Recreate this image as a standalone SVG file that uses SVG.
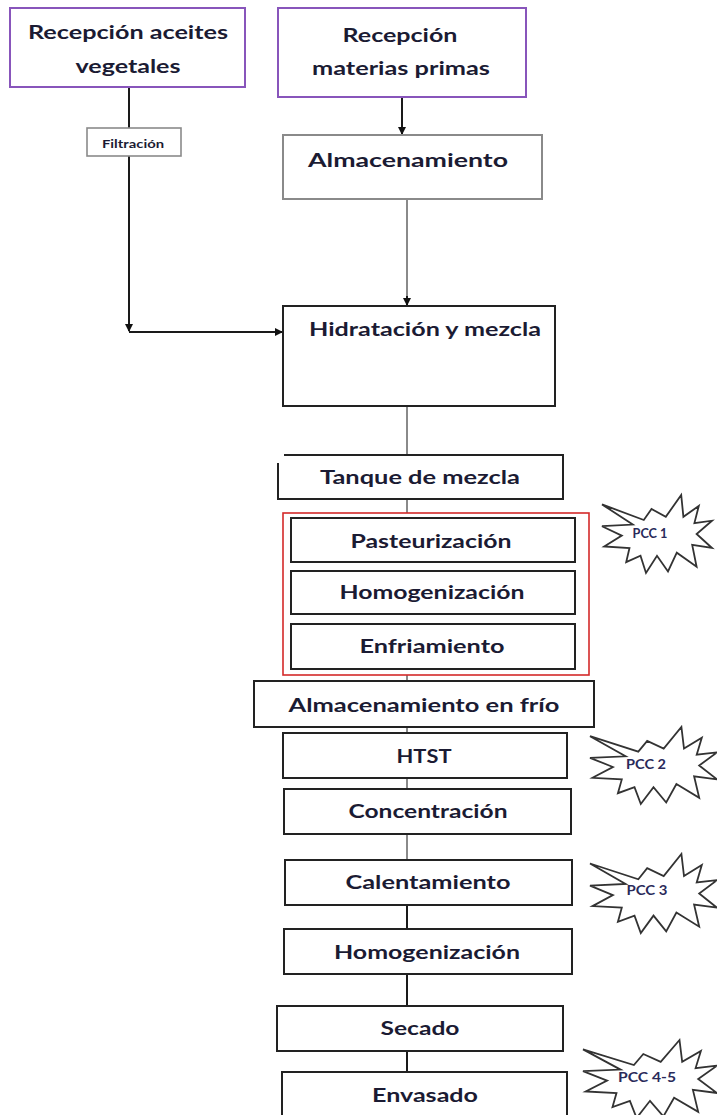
<svg xmlns="http://www.w3.org/2000/svg" width="717" height="1115" viewBox="0 0 717 1115">
<style>
.t{font-family:Lato,"Liberation Sans",sans-serif;font-weight:bold;font-size:18px;fill:#1b1b33;text-anchor:middle}
.s{font-size:11px}
.p{font-size:13.5px;fill:#2a2a5a}
.pur{fill:#fff;stroke:#8855bb;stroke-width:2}
.gry{fill:#fff;stroke:#8a8a8a;stroke-width:2}
.blk{fill:#fff;stroke:#222;stroke-width:2}
.red{fill:none;stroke:#d42a2a;stroke-width:1.6}
.lk{stroke:#1a1a1a;stroke-width:2;fill:none}
.lg{stroke:#8a8a8a;stroke-width:2;fill:none}
.star{fill:#fff;stroke:#333;stroke-width:1.8;stroke-linejoin:miter}
</style>
<defs>
<marker id="ah" markerWidth="8" markerHeight="8" refX="7" refY="4" orient="auto" markerUnits="userSpaceOnUse">
<path d="M0,0 L8,4 L0,8 Z" fill="#111"/>
</marker>
</defs>

<g id="connectors">
<path class="lk" d="M129,87 V128"/>
<path class="lk" d="M129,156 V331" marker-end="url(#ah)"/>
<path class="lk" d="M129,332 H282" marker-end="url(#ah)"/>
<path class="lk" d="M402,97 V134" marker-end="url(#ah)"/>
<path class="lg" d="M407,199 V298"/>
<path class="lk" d="M407,296 V305" marker-end="url(#ah)"/>
<path class="lg" d="M407,406 V455"/>
<path class="lg" d="M407,499 V513"/>
<path class="lg" d="M407,675 V681"/>
<path class="lg" d="M407,727 V733"/>
<path class="lg" d="M407,778 V789"/>
<path class="lg" d="M407,834 V860"/>
<path class="lk" d="M407,905 V929"/>
<path class="lk" d="M407,974 V1006"/>
<path class="lk" d="M407,1051 V1072"/>
</g>

<g id="n-rec-aceites">
<rect class="pur" x="10" y="8" width="235" height="79"/>
<text class="t" x="128" y="39" textLength="200" lengthAdjust="spacingAndGlyphs">Recepción aceites</text>
<text class="t" x="128" y="73" textLength="105" lengthAdjust="spacingAndGlyphs">vegetales</text>
</g>
<g id="n-rec-mp">
<rect class="pur" x="278" y="8" width="248" height="89"/>
<text class="t" x="400" y="42" textLength="115" lengthAdjust="spacingAndGlyphs">Recepción</text>
<text class="t" x="401" y="75" textLength="178" lengthAdjust="spacingAndGlyphs">materias primas</text>
</g>
<g id="n-filtracion">
<rect x="87" y="128" width="94" height="28" fill="#fff" stroke="#8a8a8a" stroke-width="1.6"/>
<text class="t s" x="133" y="148" textLength="62" lengthAdjust="spacingAndGlyphs">Filtración</text>
</g>
<g id="n-almacenamiento">
<rect class="gry" x="283" y="135" width="259" height="64"/>
<text class="t" x="408" y="167" textLength="200" lengthAdjust="spacingAndGlyphs">Almacenamiento</text>
</g>
<g id="n-hidratacion">
<rect class="blk" x="283" y="306" width="272" height="100"/>
<text class="t" x="425" y="336" textLength="232" lengthAdjust="spacingAndGlyphs">Hidratación y mezcla</text>
</g>
<g id="n-tanque">
<rect x="278" y="455" width="285" height="44" fill="#fff"/>
<path class="blk" fill="none" d="M284,455 H563 V499 H278 V463"/>
<text class="t" x="420" y="484" textLength="200" lengthAdjust="spacingAndGlyphs">Tanque de mezcla</text>
</g>
<g id="n-grupo-pcc1">
<rect class="red" x="283" y="513" width="306" height="162"/>
</g>
<g id="n-pasteurizacion">
<rect class="blk" x="291" y="518" width="284" height="44"/>
<text class="t" x="431" y="548" textLength="161" lengthAdjust="spacingAndGlyphs">Pasteurización</text>
</g>
<g id="n-homogenizacion1">
<rect class="blk" x="291" y="571" width="284" height="43"/>
<text class="t" x="432" y="599" textLength="185" lengthAdjust="spacingAndGlyphs">Homogenización</text>
</g>
<g id="n-enfriamiento">
<rect class="blk" x="291" y="624" width="284" height="45"/>
<text class="t" x="432" y="653" textLength="145" lengthAdjust="spacingAndGlyphs">Enfriamiento</text>
</g>
<g id="n-alm-frio">
<rect class="blk" x="254" y="681" width="340" height="46"/>
<text class="t" x="424" y="712" textLength="271" lengthAdjust="spacingAndGlyphs">Almacenamiento en frío</text>
</g>
<g id="n-htst">
<rect class="blk" x="283" y="733" width="284" height="45"/>
<text class="t" x="424" y="763" textLength="55" lengthAdjust="spacingAndGlyphs">HTST</text>
</g>
<g id="n-concentracion">
<rect class="blk" x="284" y="789" width="287" height="45"/>
<text class="t" x="428" y="818" textLength="159" lengthAdjust="spacingAndGlyphs">Concentración</text>
</g>
<g id="n-calentamiento">
<rect class="blk" x="285" y="860" width="287" height="45"/>
<text class="t" x="428" y="889" textLength="165" lengthAdjust="spacingAndGlyphs">Calentamiento</text>
</g>
<g id="n-homogenizacion2">
<rect class="blk" x="284" y="929" width="288" height="45"/>
<text class="t" x="427" y="959" textLength="186" lengthAdjust="spacingAndGlyphs">Homogenización</text>
</g>
<g id="n-secado">
<rect class="blk" x="277" y="1006" width="286" height="45"/>
<text class="t" x="420" y="1035" textLength="79" lengthAdjust="spacingAndGlyphs">Secado</text>
</g>
<g id="n-envasado">
<rect class="blk" x="282" y="1072" width="285" height="52"/>
<text class="t" x="425" y="1102" textLength="106" lengthAdjust="spacingAndGlyphs">Envasado</text>
</g>

<g id="n-pcc1">
<polygon class="star" points="602,504.4 643.8,520 651.5,509 665.8,516.8 681.2,495 683.4,516.8 698.8,505.9 694.4,523.1 712,520.7 696.6,534 712,548 692.2,544.9 696.6,566.8 676.8,552.7 668,571.4 657,555.8 646,573 640.5,555.8 626.2,562.1 629.5,548 604.2,546.5 621.8,535.6 602,526.2 632.8,524.6"/>
<text class="t p" x="650" y="538" textLength="35" lengthAdjust="spacingAndGlyphs">PCC 1</text>
</g>
<g id="n-pcc2">
<polygon class="star" points="590,736.2 638.3,751.6 647.2,740.9 663.7,748.6 681.4,727 684,748.6 701.8,737.8 696.7,754.7 717,752.4 699.2,765.5 717,779.4 694.1,776.3 699.2,797.8 676.4,784 666.2,802.5 653.5,787.1 640.8,804 634.5,787.1 617.9,793.2 621.8,779.4 592.5,777.8 612.9,767 590,757.8 625.6,756.3"/>
<text class="t p" x="646" y="769" textLength="40" lengthAdjust="spacingAndGlyphs">PCC 2</text>
</g>
<g id="n-pcc3">
<polygon class="star" points="590,863.5 638.3,879.3 647.2,868.2 663.7,876.1 681.4,854 684,876.1 701.8,865.1 696.7,882.4 717,880.1 699.2,893.5 717,907.7 694.1,904.6 699.2,926.7 676.4,912.5 666.2,931.4 653.5,915.6 640.8,933 634.5,915.6 617.9,921.9 621.8,907.7 592.5,906.1 612.9,895.1 590,885.6 625.6,884"/>
<text class="t p" x="647" y="895" textLength="41" lengthAdjust="spacingAndGlyphs">PCC 3</text>
</g>
<g id="n-pcc45">
<polygon class="star" points="583,1049.4 633.9,1065 643.3,1054 660.7,1061.8 679.5,1040 682.2,1061.8 700.9,1050.9 695.6,1068.1 717,1065.7 698.2,1079 717,1093 692.9,1089.9 698.2,1111.8 674.1,1097.7 663.4,1116.4 650,1100.8 636.6,1118 629.9,1100.8 612.5,1107.1 616.5,1093 585.7,1091.5 607.1,1080.6 583,1071.2 620.5,1069.6"/>
<text class="t p" x="647" y="1082" textLength="58" lengthAdjust="spacingAndGlyphs">PCC 4-5</text>
</g>
</svg>
